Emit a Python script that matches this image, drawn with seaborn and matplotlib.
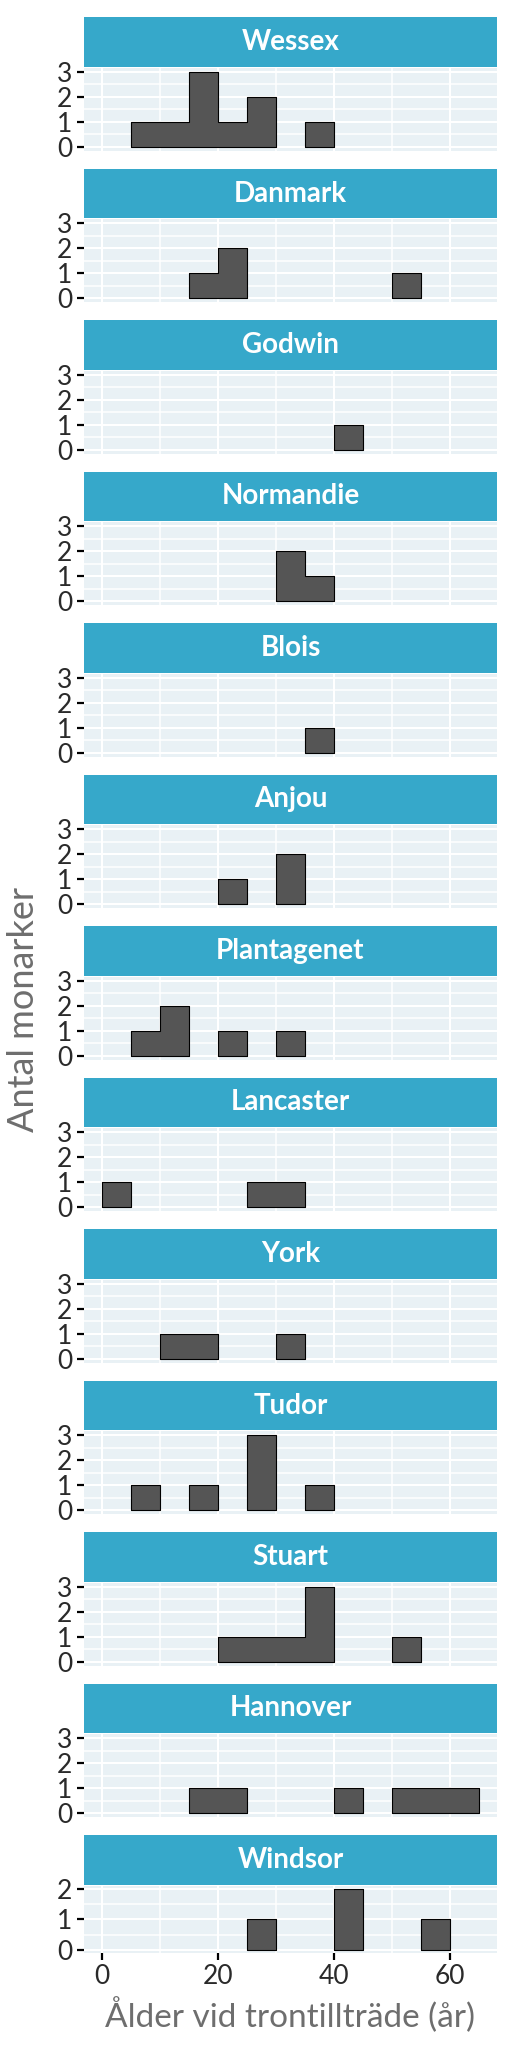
import numpy as np
import matplotlib
matplotlib.use("Agg")
import matplotlib.pyplot as plt
import seaborn as sns

# age bins (left edges, width 5 years)
bin_left = [0, 5, 10, 15, 20, 25, 30, 35, 40, 45, 50, 55, 60]

houses = ["Wessex", "Danmark", "Godwin", "Normandie", "Blois", "Anjou",
          "Plantagenet", "Lancaster", "York", "Tudor", "Stuart", "Hannover",
          "Windsor"]

# number of monarks per 5-year bin
wessex = [0, 1, 1, 3, 1, 2, 0, 1, 0, 0, 0, 0, 0]
danmark = [0, 0, 0, 1, 2, 0, 0, 0, 0, 0, 1, 0, 0]
godwin = [0, 0, 0, 0, 0, 0, 0, 0, 1, 0, 0, 0, 0]
normandie = [0, 0, 0, 0, 0, 0, 2, 1, 0, 0, 0, 0, 0]
blois = [0, 0, 0, 0, 0, 0, 0, 1, 0, 0, 0, 0, 0]
anjou = [0, 0, 0, 0, 1, 0, 2, 0, 0, 0, 0, 0, 0]
plantagenet = [0, 1, 2, 0, 1, 0, 1, 0, 0, 0, 0, 0, 0]
lancaster = [1, 0, 0, 0, 0, 1, 1, 0, 0, 0, 0, 0, 0]
york = [0, 0, 1, 1, 0, 0, 1, 0, 0, 0, 0, 0, 0]
tudor = [0, 1, 0, 1, 0, 3, 0, 1, 0, 0, 0, 0, 0]
stuart = [0, 0, 0, 0, 1, 1, 1, 3, 0, 0, 1, 0, 0]
hannover = [0, 0, 0, 1, 1, 0, 0, 0, 1, 0, 1, 1, 1]
windsor = [0, 0, 0, 0, 0, 1, 0, 0, 2, 0, 0, 1, 0]

counts = [wessex, danmark, godwin, normandie, blois, anjou, plantagenet,
          lancaster, york, tudor, stuart, hannover, windsor]

STRIP = "#36a8ca"
PANEL = "#e9f1f5"
BAR = "#555555"
GREY = "#6e6e6e"
FONT = ["Lato", "DejaVu Sans"]

sns.set_theme(style="white")
plt.rcParams["font.family"] = FONT

W, H = 512, 2048
fig = plt.figure(figsize=(W / 100, H / 100), dpi=100)

left, right = 84.3, 496.7
step = 151.5


def runs(c):
    # contiguous groups of non-empty bins, so gaps don't get a baseline
    out, cur = [], []
    for i, v in enumerate(c):
        if v > 0:
            cur.append(i)
        elif cur:
            out.append(cur)
            cur = []
    if cur:
        out.append(cur)
    return out


for i, (name, c) in enumerate(zip(houses, counts)):
    strip_top = 17.3 + step * i
    strip_bot = strip_top + 49.4
    pan_top = strip_bot + 1.2
    last = i == len(houses) - 1
    pan_bot = 1953 if last else strip_top + 133.2

    sax = fig.add_axes([left / W, 1 - strip_bot / H, (right - left) / W, (strip_bot - strip_top) / H])
    sax.set_facecolor(STRIP)
    sax.set_xticks([])
    sax.set_yticks([])
    for s in sax.spines.values():
        s.set_visible(False)
    sax.text(0.5, 0.5, name, ha="center", va="center", color="white",
             fontsize=20, fontweight="bold", transform=sax.transAxes)

    ax = fig.add_axes([left / W, 1 - pan_bot / H, (right - left) / W, (pan_bot - pan_top) / H])
    ax.set_facecolor(PANEL)
    for grp in runs(c):
        xs = [bin_left[j] + 2.5 for j in grp]
        ws = [c[j] for j in grp]
        sns.histplot(x=xs, weights=ws, binwidth=5,
                     binrange=(bin_left[grp[0]], bin_left[grp[-1]] + 5),
                     element="step", fill=True, color=BAR, alpha=1,
                     edgecolor="black", linewidth=0.8, ax=ax)
    ax.set_xlim(-3, 68)
    if last:
        ax.set_ylim(-0.1, 2.1)
        ax.set_yticks([0, 1, 2])
        ax.set_yticks([0.5, 1.5], minor=True)
    else:
        ax.set_ylim(-0.15, 3.15)
        ax.set_yticks([0, 1, 2, 3])
        ax.set_yticks([0.5, 1.5, 2.5], minor=True)
    ax.set_xticks([0, 20, 40, 60])
    ax.set_xticks([10, 30, 50], minor=True)
    ax.set_axisbelow(True)
    ax.grid(which="major", color="white", linewidth=1.5)
    ax.grid(which="minor", color="white", linewidth=1.1)
    for s in ax.spines.values():
        s.set_visible(False)
    ax.set_xlabel("")
    ax.set_ylabel("")
    ax.tick_params(axis="y", which="major", left=True, length=4.8, width=1.6,
                   color="black", labelsize=19, labelcolor="#2a2a2a", pad=4)
    ax.tick_params(which="minor", length=0)
    if last:
        ax.tick_params(axis="x", which="major", bottom=True, length=4.8, width=1.6,
                       color="black", labelsize=19, labelcolor="#2a2a2a", pad=3)
    else:
        ax.tick_params(axis="x", which="major", bottom=False, labelbottom=False)

fig.text(290 / W, 1 - 2015 / H, "Ålder vid trontillträde (år)", ha="center",
         va="center", fontsize=24, color=GREY)
fig.text(24 / W, 1 - 1010 / H, "Antal monarker", ha="center", va="center",
         rotation=90, fontsize=26, color=GREY)

fig.savefig("out.png", dpi=100, facecolor="white")
